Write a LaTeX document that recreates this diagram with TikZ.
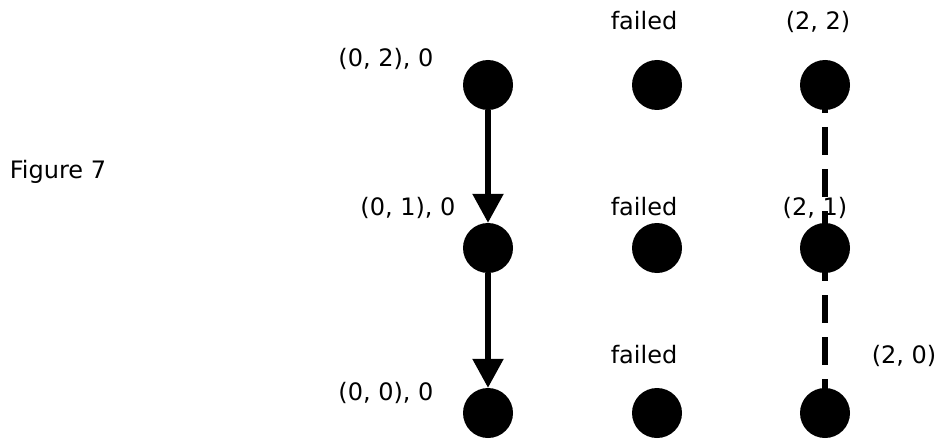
\documentclass[tikz,border=0pt]{standalone}
\usepackage{fontspec}
\setmainfont{DejaVu Sans}
\usetikzlibrary{arrows.meta}
\begin{document}
\begin{tikzpicture}[x=1pt,y=-1pt,
  dot/.style={circle,fill=black,minimum size=50pt,inner sep=0pt},
  lbl/.style={anchor=base,inner sep=0pt,font=\fontsize{24}{28}\selectfont},
  flow/.style={line width=5.5pt,-{Triangle[width=30pt,length=29pt]}},
  link/.style={line width=5.5pt,dash pattern=on 28pt off 14pt}]
\useasboundingbox (0,0) rectangle (939,441);
% dots
\node[dot] (n02) at (488,85) {};
\node[dot] (n01) at (488,248) {};
\node[dot] (n00) at (488,413) {};
\node[dot] (n12) at (657,85) {};
\node[dot] (n11) at (657,248) {};
\node[dot] (n10) at (657,413) {};
\node[dot] (n22) at (825,85) {};
\node[dot] (n21) at (825,248) {};
\node[dot] (n20) at (825,413) {};
% labels
\node[lbl] (fig) at (58,178) {Figure 7};
\node[lbl] (l02) at (386,67) {(0, 2), 0};
\node[lbl] (l01) at (408,215) {(0, 1), 0};
\node[lbl] (l00) at (386,400) {(0, 0), 0};
\node[lbl] (f2) at (644,30) {failed};
\node[lbl] (f1) at (644,215) {failed};
\node[lbl] (f0) at (644,363) {failed};
\node[lbl] (l22) at (818,30) {(2, 2)};
\node[lbl] (l21) at (815,215) {(2, 1)};
\node[lbl] (l20) at (904,363) {(2, 0)};
% connectors
\draw[flow] (n02) -- (n01);
\draw[flow] (n01) -- (n00);
\draw[link] (n22.center) -- (n20.center);
\end{tikzpicture}
\end{document}
